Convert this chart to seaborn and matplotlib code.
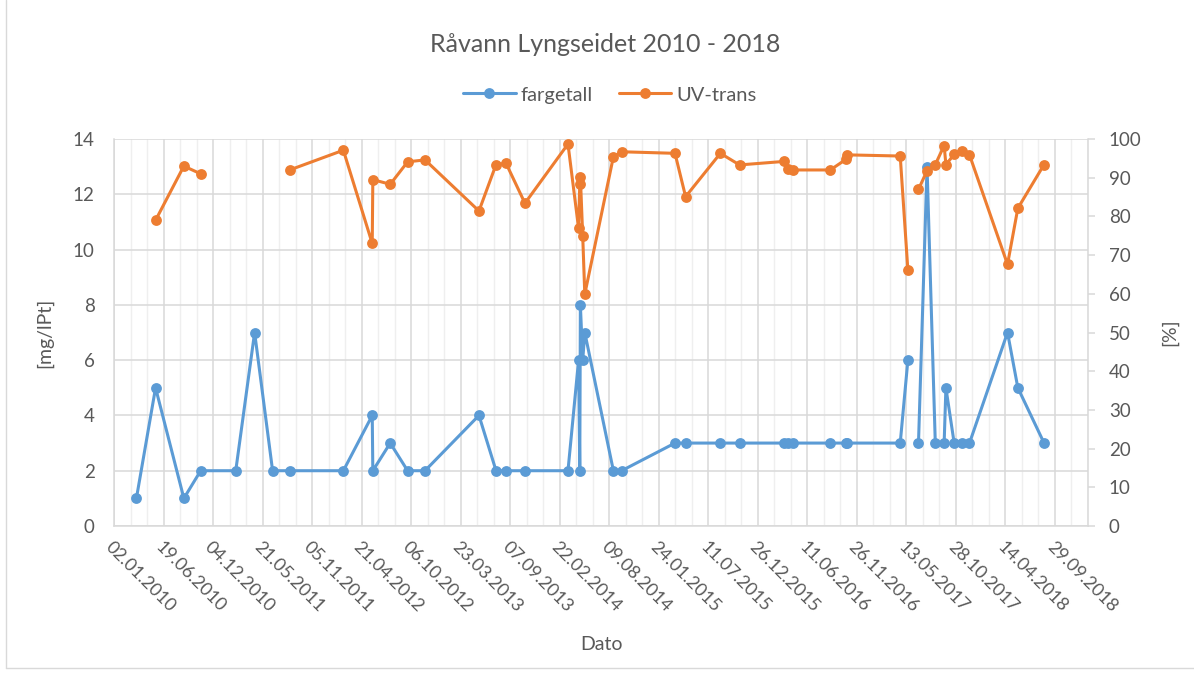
import matplotlib
matplotlib.use("Agg")
import matplotlib.pyplot as plt
import matplotlib.dates as mdates
from matplotlib.lines import Line2D
import seaborn as sns
import pandas as pd
import numpy as np

# ---------------- data ----------------
dates = [
    "2010-03-19", "2010-05-23", "2010-08-27", "2010-10-23", "2011-02-19", "2011-04-24",
    "2011-06-24", "2011-08-21", "2012-02-19", "2012-05-27", "2012-05-29", "2012-07-27",
    "2012-09-24", "2012-11-22", "2013-05-24", "2013-07-21", "2013-08-24", "2013-10-27",
    "2014-03-22", "2014-04-27", "2014-05-01", "2014-05-03", "2014-05-11", "2014-05-18",
    "2014-08-23", "2014-09-20", "2015-03-20", "2015-04-25", "2015-08-21", "2015-10-25",
    "2016-03-23", "2016-04-06", "2016-04-23", "2016-08-28", "2016-10-21", "2016-10-25",
    "2017-04-22", "2017-05-18", "2017-06-05", "2017-06-23", "2017-07-22", "2017-08-19",
    "2017-09-18", "2017-09-24", "2017-10-22", "2017-11-17", "2017-12-13", "2018-04-21",
    "2018-05-26", "2018-08-23",
]
fargetall = [
    1, 5, 1, 2, 2, 7,
    2, 2, 2, 4, 2, 3,
    2, 2, 4, 2, 2, 2,
    2, 6, 2, 8, 6, 7,
    2, 2, 3, 3, 3, 3,
    3, 3, 3, 3, 3, 3,
    3, 6, np.nan, 3, 13, 3,
    3, 5, 3, 3, 3, 7,
    5, 3,
]
uv_trans = [
    np.nan, 79, 93, 91, np.nan, np.nan,
    np.nan, 92, 97.1, 73, 89.5, 88.3,
    94.1, 94.6, 81.4, 93.4, 93.7, 83.4,
    98.7, 76.9, 88.5, 90.3, 74.9, 59.9,
    95.4, 96.7, 96.3, 85.1, 96.3, 93.3,
    94.2, 92.3, 92.0, 92.0, 94.8, 95.9,
    95.6, 66.1, np.nan, 87.0, 91.8, 93.4,
    98.3, 93.4, 96.0, 96.9, 95.9, 67.6,
    82.1, 93.4,
]
title = "Råvann Lyngseidet 2010 - 2018"
x_label = "Dato"
y_label_left = "[mg/lPt]"
y_label_right = "[%]"
axis_start = "2010-01-02"

# ---------------- styling ----------------
BLUE = "#5B9BD5"
ORANGE = "#ED7D31"
TXT = "#595959"
GRID = "#D9D9D9"
MINOR = "#EFEFEF"

sns.set_theme(style="white")
plt.rcParams["font.family"] = ["Lato", "DejaVu Sans"]

df = pd.DataFrame({"Dato": pd.to_datetime(dates), "fargetall": fargetall, "UV-trans": uv_trans})


def segments(col):
    s = df[["Dato", col]].copy()
    s["seg"] = s[col].isna().cumsum()
    return s.dropna()


W, H = 1194, 673
fig = plt.figure(figsize=(W / 100, H / 100), dpi=100)
L, R, T, B = 114, 1088, 139, 526
ax = fig.add_axes([L / W, 1 - B / H, (R - L) / W, (B - T) / H])
ax2 = ax.twinx()

sns.lineplot(data=segments("fargetall"), x="Dato", y="fargetall", units="seg",
             estimator=None, color=BLUE, marker="o", markersize=7.8,
             markeredgewidth=0, linewidth=2.2, ax=ax, legend=False, zorder=3)
sns.lineplot(data=segments("UV-trans"), x="Dato", y="UV-trans", units="seg",
             estimator=None, color=ORANGE, marker="o", markersize=7.8,
             markeredgewidth=0, linewidth=2.2, ax=ax2, legend=False, zorder=3)

start = pd.Timestamp(axis_start)
major = pd.date_range(start, periods=20, freq="168D")
minor = pd.date_range(start, periods=60, freq="56D")
ax.set_xlim(start, start + pd.Timedelta(days=3298))
ax.set_xticks(major)
ax.set_xticks(minor, minor=True)
ax.xaxis.set_major_formatter(mdates.DateFormatter("%d.%m.%Y"))

ax.set_ylim(0, 14)
ax.set_yticks(np.arange(0, 15, 2))
ax2.set_ylim(0, 100)
ax2.set_yticks(np.arange(0, 101, 10))

ax.grid(True, which="major", axis="both", color=GRID, linewidth=1.1, zorder=0)
ax.grid(True, which="minor", axis="x", color=MINOR, linewidth=1.0, zorder=0)
ax.set_axisbelow(True)
ax2.grid(False)

for sp in ["top", "right"]:
    ax.spines[sp].set_visible(False)
for sp in ["left", "bottom"]:
    ax.spines[sp].set_color(GRID)
    ax.spines[sp].set_linewidth(1.1)
for sp in ["top", "left", "bottom"]:
    ax2.spines[sp].set_visible(False)
ax2.spines["right"].set_color(GRID)
ax2.spines["right"].set_linewidth(1.1)

ax.tick_params(axis="x", which="both", length=0, pad=9, labelsize=13, labelcolor=TXT)
ax.tick_params(axis="y", length=0, pad=14, labelsize=13.5, labelcolor=TXT)
ax2.tick_params(axis="y", length=5, width=1.1, color=GRID, direction="out", pad=10,
                labelsize=13.5, labelcolor=TXT)
for lab in ax.get_xticklabels():
    lab.set_rotation(-45)
    lab.set_ha("left")
    lab.set_va("top")
    lab.set_rotation_mode("anchor")

ax.set_xlabel(x_label, fontsize=14, color=TXT, labelpad=15)
ax.set_ylabel(y_label_left, fontsize=14, color=TXT, labelpad=14)
ax2.set_ylabel(y_label_right, fontsize=14, color=TXT, labelpad=14, rotation=90)

fig.text(0.5 + 8 / W, 1 - 45 / H, title, ha="center", va="center", fontsize=18, color=TXT)

handles = [
    Line2D([], [], color=BLUE, marker="o", markersize=7.8, markeredgewidth=0, linewidth=2.2),
    Line2D([], [], color=ORANGE, marker="o", markersize=7.8, markeredgewidth=0, linewidth=2.2),
]
fig.legend(handles, ["fargetall", "UV-trans"], loc="center", bbox_to_anchor=(610 / W, 1 - 95 / H),
           ncol=2, frameon=False, fontsize=14.5, labelcolor=TXT, handlelength=2.6,
           handletextpad=0.25, columnspacing=1.3)

# chart-area border
fig.add_artist(Line2D([5.5 / W, 5.5 / W], [1 - 668 / H, 1], transform=fig.transFigure, color=GRID, linewidth=1))
fig.add_artist(Line2D([5.5 / W, 1], [1 - 668 / H, 1 - 668 / H], transform=fig.transFigure, color=GRID, linewidth=1))

fig.savefig("out.png", dpi=100)
